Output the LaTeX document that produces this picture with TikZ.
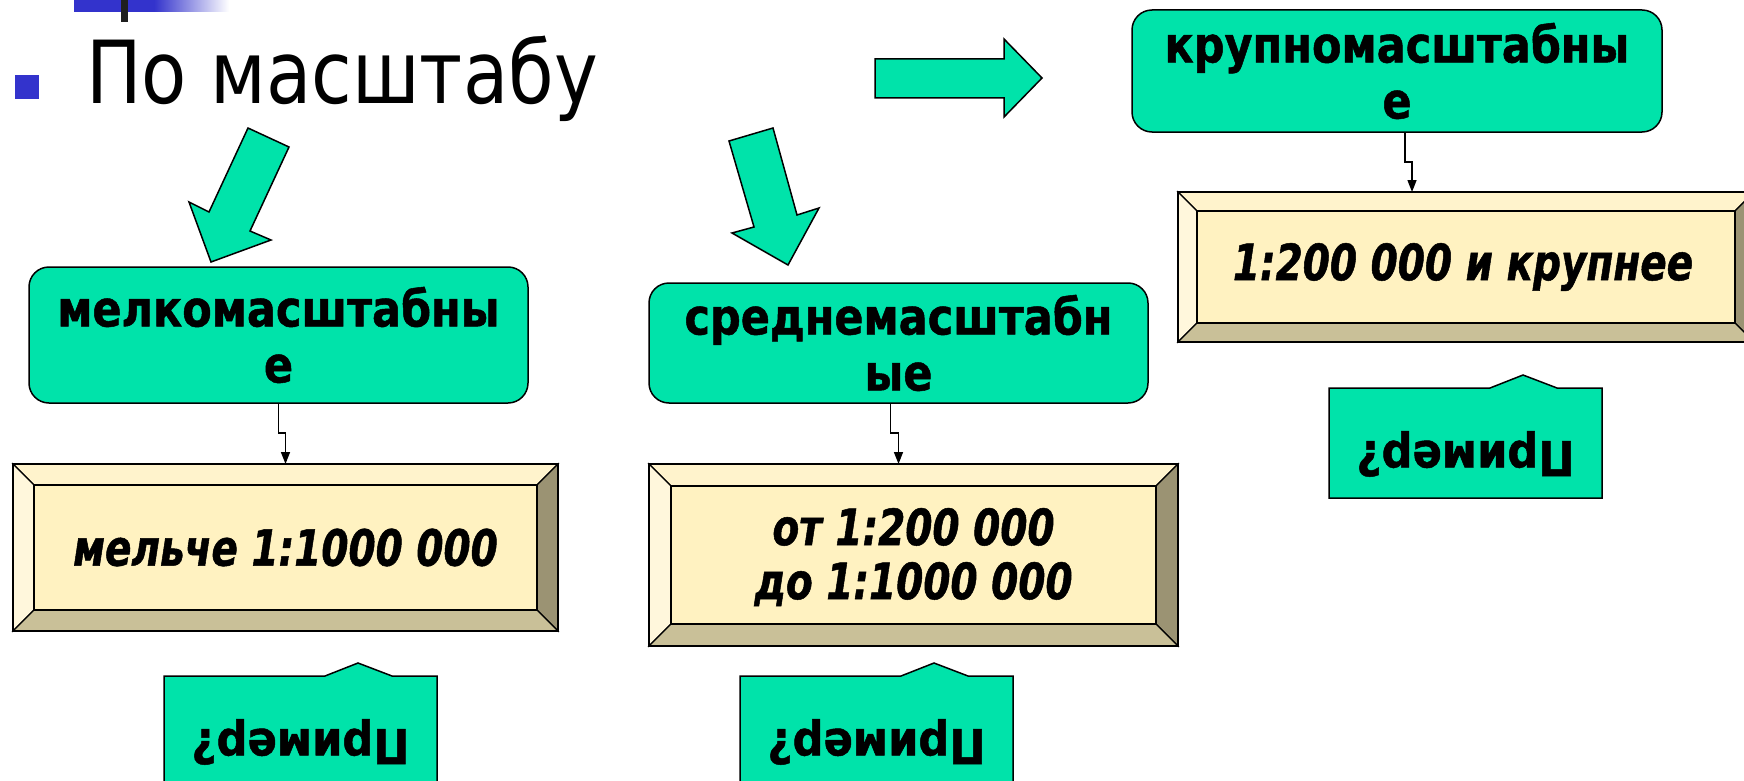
\documentclass[tikz,border=0pt]{standalone}
\usepackage{fontspec}
\setmainfont{DejaVu Sans}[FakeStretch=0.9]
\newfontfamily\titlefam{DejaVu Sans}[FakeStretch=0.85]
\newfontfamily\lblfam{DejaVu Sans}[FakeStretch=0.86,FakeBold=1]
\newfontfamily\numfam{DejaVu Sans}[FakeStretch=0.78,FakeBold=1]
\newfontfamily\primfam{DejaVu Sans}[FakeStretch=0.9,FakeBold=1]
\usetikzlibrary{arrows.meta,calc}
\definecolor{mint}{RGB}{0,227,170}
\definecolor{bulletblue}{RGB}{51,51,204}
\definecolor{bvface}{RGB}{255,242,193}
\definecolor{bvtop}{RGB}{255,243,204}
\definecolor{bvleft}{RGB}{255,247,220}
\definecolor{bvright}{RGB}{155,147,115}
\definecolor{bvbottom}{RGB}{201,192,152}
\newcommand{\titlefnt}{\titlefam\fontsize{87}{92}\selectfont}
\newcommand{\lblfnt}{\lblfam\fontsize{50}{56}\selectfont\bfseries}
\newcommand{\numfnt}{\numfam\fontsize{50}{54}\selectfont\bfseries\itshape}
\newcommand{\primfnt}{\primfam\fontsize{48}{52}\selectfont\bfseries}
\newcommand{\bevelfaces}[2]{%
  \filldraw[face,fill=bvtop] (#1.north west) -- (#1.north east) -- ($(#1.north east)+(-#2,#2)$) -- ($(#1.north west)+(#2,#2)$) -- cycle;
  \filldraw[face,fill=bvleft] (#1.north west) -- ($(#1.north west)+(#2,#2)$) -- ($(#1.south west)+(#2,-#2)$) -- (#1.south west) -- cycle;
  \filldraw[face,fill=bvright] (#1.north east) -- (#1.south east) -- ($(#1.south east)+(-#2,-#2)$) -- ($(#1.north east)+(-#2,#2)$) -- cycle;
  \filldraw[face,fill=bvbottom] (#1.south west) -- (#1.south east) -- ($(#1.south east)+(-#2,-#2)$) -- ($(#1.south west)+(#2,-#2)$) -- cycle;
  \filldraw[face,fill=bvface] ($(#1.north west)+(#2,#2)$) rectangle ($(#1.south east)+(-#2,-#2)$);
  \draw[face,line width=1.5pt] (#1.north west) rectangle (#1.south east);
}
\newcommand{\primershape}[2]{%
  \draw[primerbox] (#1,#2+110) -- (#1,#2) -- (#1+161,#2) -- (#1+194,#2-13) -- (#1+228,#2) -- (#1+273,#2) -- (#1+273,#2+110) -- cycle;
}
\begin{document}
\begin{tikzpicture}[x=1pt,y=-1pt,
  greenbox/.style={draw=black, line width=1.5pt, fill=mint, rounded corners=20pt,
    font=\lblfnt, align=center, inner sep=0pt, outer sep=0pt},
  bevelbox/.style={draw=black, line width=1.5pt, fill=bvface, inner sep=0pt, outer sep=0pt},
  face/.style={draw=black, line width=1.2pt, line join=miter},
  numtext/.style={font=\numfnt, align=center, inner sep=0pt},
  conn/.style={draw=black, line width=1.5pt, -{Triangle[length=12pt,width=9pt]}},
  blockarrow/.style={draw=black, line width=1.5pt, fill=mint, line join=miter},
  primerbox/.style={draw=black, line width=1.5pt, fill=mint, line join=miter},
  primertext/.style={font=\primfnt, rotate=180, inner sep=0pt},
  ]
\useasboundingbox (0,0) rectangle (1744,781);
\clip (0,0) rectangle (1744,781);
\fill[white] (0,0) rectangle (1744,781);

% top-left decoration
\fill[bulletblue] (74,0) rectangle (154,12);
\shade[left color=bulletblue, right color=white] (154,0) rectangle (229,12);
\fill[black!88] (121,0) rectangle (128,22);
\fill[bulletblue] (15,75) rectangle (39,99);
\node[anchor=base west, font=\titlefnt, inner sep=0pt] (title) at (86,103) {По масштабу};

% block arrows
\draw[blockarrow] (875,59) -- (1004,59) -- (1004,39) -- (1042,78) -- (1004,117) -- (1004,98) -- (875,98) -- cycle;
\draw[blockarrow] (248,128) -- (289,147) -- (250,231) -- (271,240) -- (211,262) -- (189,202) -- (209,212) -- cycle;
\draw[blockarrow] (729,141) -- (773,128) -- (797,215) -- (819,208) -- (788,265) -- (732,233) -- (754,227) -- cycle;

% green headers
\node[greenbox, minimum width=499pt, minimum height=136pt] (r1) at (278.5,335) {мелкомасштабны\\е};
\node[greenbox, minimum width=499pt, minimum height=120pt] (r2) at (898.5,343) {среднемасштабн\\ые};
\node[greenbox, minimum width=530pt, minimum height=122pt] (r3) at (1397,71) {крупномасштабны\\е};

% bevel boxes
\node[bevelbox, minimum width=545pt, minimum height=167pt] (b1) at (285.5,547.5) {};
\bevelfaces{b1}{21}
\node[numtext] (t1) at (b1.center) {мельче 1:1000 000};

\node[bevelbox, minimum width=529pt, minimum height=182pt] (b2) at (913.5,555) {};
\bevelfaces{b2}{22}
\node[numtext] (t2) at ($(b2.center)+(0,2)$) {от 1:200 000\\до 1:1000 000};

\node[bevelbox, minimum width=576pt, minimum height=150pt] (b3) at (1466,267) {};
\bevelfaces{b3}{19}
\node[numtext] (t3) at ($(b3.center)+(-3,0)$) {1:200 000 и крупнее};

% connectors
\draw[conn] (r1.south) -- ++(0,30) -| (b1.north);
\draw[conn] ($(r2.south)+(-8,0)$) -- ++(0,30) -| ($(b2.north)+(-15,0)$);
\draw[conn] ($(r3.south)+(8,0)$) -- ++(0,30) -| ($(b3.north)+(-54,0)$);

% example callouts
\primershape{164}{676}
\node[primertext] (p1) at (300.5,742) {Пример?};
\primershape{740}{676}
\node[primertext] (p2) at (876.5,742) {Пример?};
\primershape{1329}{388}
\node[primertext] (p3) at (1465.5,454) {Пример?};
\end{tikzpicture}
\end{document}
